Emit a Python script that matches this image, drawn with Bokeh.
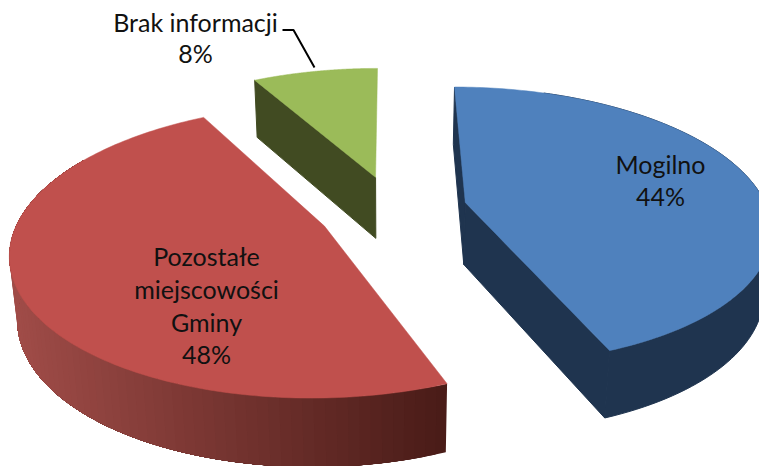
import numpy as np
from bokeh.plotting import figure
from bokeh.models import Range1d
from bokeh.embed import file_html
from bokeh.resources import INLINE
from bokeh.core.properties import value

# data
categories = ["Mogilno", "Pozostałe miejscowości Gminy", "Brak informacji"]
shares = [44, 48, 8]
label_lines = [["Mogilno", "44%"],
               ["Pozostałe", "miejscowości", "Gminy", "48%"],
               ["Brak informacji", "8%"]]
top_colors = ["#4F81BD", "#C0504D", "#9BBB59"]
side_colors = ["#1F344F", None, "#414B22"]
red_wall = ["#A04C48", "#4A1C18"]

# projection of the tilted 3D pie
CX, CY, R, S, K, D = 389.0, 203.0, 300.0, 135.0, 0.166, 62.0
explode = [(0.253, 0.007), (-0.211, -0.163), (-0.048, 0.2)]


def project(X, Y, bottom=False):
    X, Y = np.asarray(X, float), np.asarray(Y, float)
    w = 1 + K * Y
    x = CX + R * X / w
    y = CY - S * Y / w
    if bottom:
        d = D / w ** 0.5
        x = CX + (x - CX) * (1 - 0.02 * d / D)
        y = y + d
    return x, y


def rim(i, t0, t1, bottom=False, n=90):
    t = np.radians(np.linspace(t0, t1, n))
    return project(explode[i][0] + np.sin(t), explode[i][1] + np.cos(t), bottom)


edges = np.concatenate([[0], np.cumsum(shares)]) * 3.6

p = figure(width=759, height=466, x_range=Range1d(0, 759), y_range=Range1d(466, 0),
           output_backend="svg", toolbar_location=None, min_border=0,
           x_axis_type=None, y_axis_type=None, background_fill_color="white",
           outline_line_color=None)
p.grid.visible = False


def hexmix(a, b, f):
    ca = [int(a[j:j + 2], 16) for j in (1, 3, 5)]
    cb = [int(b[j:j + 2], 16) for j in (1, 3, 5)]
    return "#%02x%02x%02x" % tuple(int(round(u + (v - u) * f)) for u, v in zip(ca, cb))


# red outer wall: shaded, each band is painted over the previous one so no seams show
n_strips = 80
thetas = np.linspace(edges[1], 300, n_strips + 1)
xs_s, ys_s, cs_s = [], [], []
for a in thetas[:-1]:
    tx, ty = rim(1, a, 300, n=60)
    bx, by = rim(1, 300, a, True, n=60)
    xs_s.append(list(tx) + list(bx))
    ys_s.append(list(ty) + list(by))
    ax, _ = rim(1, a, a, n=1)
    f = float(np.clip((ax[0] - 15) / 430, 0, 1))
    cs_s.append(hexmix(red_wall[0], red_wall[1], f))
p.patches(xs_s, ys_s, fill_color=cs_s, line_color=None)

# blue walls
tx, ty = rim(0, 20, edges[1])
bx, by = rim(0, edges[1], 20, True)
p.patch(list(tx) + list(bx), list(ty) + list(by), fill_color=side_colors[0], line_color=side_colors[0])
for th in (0.0, edges[1]):
    ex, ey = rim(0, th, th, n=1)
    ebx, eby = rim(0, th, th, True, n=1)
    ax, ay = project(*explode[0])
    abx, aby = project(*explode[0], True)
    p.patch([float(ex[0]), float(ax), float(abx), float(ebx[0])],
            [float(ey[0]), float(ay), float(aby), float(eby[0])],
            fill_color=side_colors[0], line_color=side_colors[0])

# green radial face
ex, ey = rim(2, edges[2], edges[2], n=1)
ebx, eby = rim(2, edges[2], edges[2], True, n=1)
ax, ay = project(*explode[2])
abx, aby = project(*explode[2], True)
p.patch([float(ex[0]), float(ax), float(abx), float(ebx[0])],
        [float(ey[0]), float(ay), float(aby), float(eby[0])],
        fill_color=side_colors[2], line_color=side_colors[2])

# top faces
for i in range(3):
    tx, ty = rim(i, edges[i], edges[i + 1], n=160)
    ax, ay = project(*explode[i])
    p.patch([float(ax)] + list(tx), [float(ay)] + list(ty), fill_color=top_colors[i],
            line_color=top_colors[i], line_width=0.5)

# leader line
p.line([282, 293, 314], [29.5, 29.5, 67], line_color="black", line_width=2)

# labels
label_pos = [(660, [163, 195]), (206, [255, 288, 321, 353]), (195, [21, 52])]
for lines, (lx, lys) in zip(label_lines, label_pos):
    p.text([lx] * len(lines), lys, text=lines, text_font=value("Lato"), text_font_size="25px",
           text_color="#111111", text_align="center", text_baseline="middle")

open("out.html", "w").write(file_html(p, INLINE))
